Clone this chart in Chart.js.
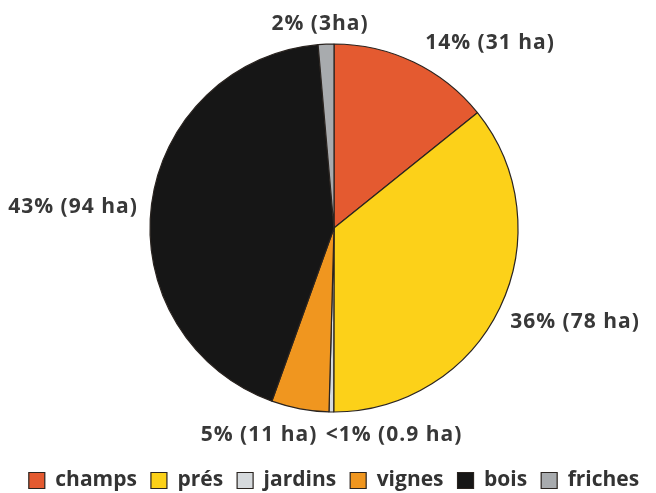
<!DOCTYPE html>
<html>
<head>
<meta charset="utf-8">
<script src="https://cdn.jsdelivr.net/npm/chart.js@4/dist/chart.umd.min.js"></script>
<style>
  html, body { margin: 0; padding: 0; background: #ffffff; overflow: hidden; }
  #wrap { width: 656px; height: 493px; position: relative; }
</style>
</head>
<body>
<div id="wrap"><canvas id="c"></canvas></div>
<script>
// ---- data ----
const categories = ['champs', 'prés', 'jardins', 'vignes', 'bois', 'friches'];
const hectares = [31, 78, 0.9, 11, 94, 3];
const valueLabels = ['14% (31 ha)', '36% (78 ha)', '<1% (0.9 ha)', '5% (11 ha)', '43% (94 ha)', '2% (3ha)'];

// ---- styles / placement (not data) ----
const sliceColors = ['#E45A30', '#FCD119', '#D6DADD', '#F0961F', '#161616', '#A8ABAE'];
const labelOffsets = [[156, -185], [241, 94], [60, 207], [-75, 207], [-261, -21], [-14, -204]];

const labelPlugin = {
  id: 'sliceLabels',
  afterDatasetsDraw(chart) {
    const meta = chart.getDatasetMeta(0);
    const arc = meta.data[0];
    if (!arc) return;
    const ctx = chart.ctx;
    ctx.save();
    ctx.font = 'bold 21px "Open Sans"';
    try { ctx.letterSpacing = '1px'; } catch (e) {}
    ctx.fillStyle = '#383838';
    ctx.textAlign = 'center';
    ctx.textBaseline = 'middle';
    valueLabels.forEach((t, i) => {
      const o = labelOffsets[i];
      ctx.fillText(t, arc.x + o[0], arc.y + o[1]);
    });
    ctx.restore();
  }
};

new Chart(document.getElementById('c'), {
  type: 'pie',
  data: {
    labels: categories,
    datasets: [{
      data: hectares,
      backgroundColor: sliceColors,
      borderColor: '#2a2420',
      borderWidth: 1.2
    }]
  },
  options: {
    responsive: true,
    maintainAspectRatio: false,
    animation: false,
    radius: 184,
    layout: { padding: { left: 12, right: 0, top: 0, bottom: -8 } },
    plugins: {
      tooltip: { enabled: false },
      legend: {
        position: 'bottom',
        labels: {
          boxWidth: 16,
          boxHeight: 16,
          padding: 14,
          color: '#333333',
          font: { family: '"Open Sans"', size: 21, weight: 'bold' }
        }
      }
    }
  },
  plugins: [labelPlugin]
});
</script>
</body>
</html>
